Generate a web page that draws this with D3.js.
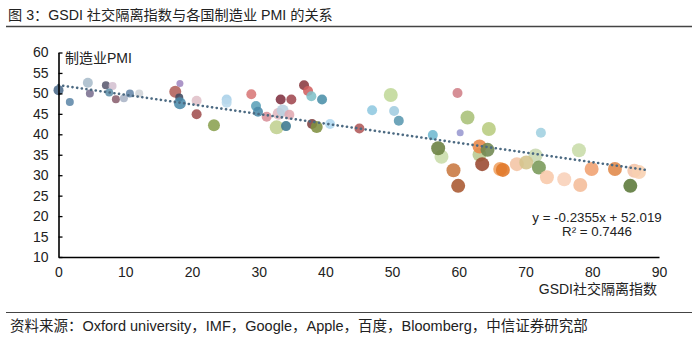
<!DOCTYPE html>
<html><head><meta charset="utf-8">
<script src="https://cdn.jsdelivr.net/npm/d3@7"></script>
<style>
body{margin:0;background:#fff;}
svg{display:block;font-family:"Liberation Sans","Noto Sans CJK SC",Arial,sans-serif;}
</style></head>
<body><svg id="c" width="699" height="340"></svg>
<script>
// ---- data ----
const gsdi = [0.0,1.7,4.4,4.7,7.1,8.1,7.6,8.6,9.8,10.7,12.1,18.2,17.5,18.1,18.2,20.7,20.7,23.3,25.2,25.2,28.9,29.6,29.9,31.2,32.7,33.3,34.9,33.0,33.6,34.6,34.1,36.8,37.4,37.9,39.5,38.0,38.7,40.7,45.1,47.0,49.8,50.3,51.0,56.1,59.8,60.2,61.3,64.5,72.3,57.4,56.9,59.2,59.9,63.1,63.1,64.3,63.5,66.2,66.6,68.7,71.5,70.1,72.0,73.2,75.8,78.2,78.0,79.9,83.4,86.3,87.0,85.7];
const pmi  = [50.8,47.9,52.6,50.0,52.0,51.8,50.2,48.6,48.8,50.0,50.0,52.4,50.4,49.0,47.6,48.2,44.9,42.2,48.5,47.7,49.8,46.9,45.5,44.3,41.7,48.5,48.5,45.0,45.8,44.8,42.0,52.0,50.6,49.3,48.5,42.5,41.8,42.5,41.4,45.9,49.6,45.7,43.3,39.8,50.1,40.4,44.1,41.3,40.4,34.5,36.6,31.2,27.4,35.0,37.0,36.2,32.7,31.5,31.3,32.7,34.8,33.1,31.9,29.5,29.0,27.6,36.1,31.5,31.5,31.1,30.8,27.4];
const xTicks = [0,10,20,30,40,50,60,70,80,90];
const yTicks = [10,15,20,25,30,35,40,45,50,55,60];
const slope = -0.2355, intercept = 52.019, r2 = 0.7446;
const titleText = "图 3：GSDI 社交隔离指数与各国制造业 PMI 的关系";
const yLabel = "制造业PMI";
const xLabel = "GSDI社交隔离指数";
const sourceText = "资料来源：Oxford university，IMF，Google，Apple，百度，Bloomberg，中信证券研究部";

// ---- styles (per point) ----
const pointColors = ["#4b6a8a","#5f87a8","#a9bccb","#7a6f8f","#5a5a70","#d4c0d0","#5f8faa","#8a6070","#aab4c6","#6688aa","#d0d4d8","#a088c0","#b0605a","#404a60","#4a8aaa","#e0c0c8","#a05050","#8aa050","#a8d0e8","#b8d8ec","#d87878","#5aa0b8","#4a8aa8","#d89098","#c0d090","#803040","#a04850","#e0b8c0","#b8d0e0","#e0a8b0","#3a7890","#8a3a40","#d06060","#80c0c8","#4a90a8","#804040","#809040","#b0d8f0","#b05858","#90c8e0","#c0d898","#a0cce0","#5a98b0","#70b8d0","#d08088","#9898d0","#a8c078","#b8cc80","#a0d0e0","#c8dca8","#6a8040","#c87840","#a85830","#b8c890","#e88848","#708850","#984830","#f0a060","#e07828","#f4c4a4","#c8d8b0","#d4c48c","#789858","#f8c8a8","#f8d0b8","#f4bc98","#c8dca8","#f0a070","#e08848","#f4c4a8","#f8d0b0","#5a7838"];
const pointR = [5,4,5,4,4,4,4,4,4,4,4,3.5,6,4,6,5,5,6,5,5,5,5,5,5,7,5,5,6,6,5,5,5,5,5,5,5,6,5,5,5,7,5,5,5,5,3.5,7,7,5,7,7,7,7,7,7,7,7,7,7,7,7,7,7,7,7,7,7,7,7,7,7,7];

const svg = d3.select("#c");
const x = d3.scaleLinear().domain([0,90]).range([58.5,659]);
const y = d3.scaleLinear().domain([10,60]).range([257,52.5]);

// title
svg.append("text").attr("x",8).attr("y",20).attr("font-size",14.2).attr("fill","#222").text(titleText);
svg.append("line").attr("x1",6).attr("x2",692).attr("y1",26.5).attr("y2",26.5).attr("stroke","#444").attr("stroke-width",1.3);

// points
const pts = gsdi.map((g,i)=>({g, p:pmi[i], c:pointColors[i], r:pointR[i]}));
svg.append("g").selectAll("circle").data(pts).join("circle")
  .attr("cx",d=>x(d.g)).attr("cy",d=>y(d.p)).attr("r",d=>d.r)
  .attr("fill",d=>d.c).attr("opacity",0.88);

// trend line
svg.append("line")
  .attr("x1",x(0)).attr("y1",y(intercept))
  .attr("x2",x(88)).attr("y2",y(intercept+slope*88))
  .attr("stroke","#4c6a82").attr("stroke-width",2.6)
  .attr("stroke-dasharray","0.1,4.6").attr("stroke-linecap","round");

// axes
const yAxis = d3.axisLeft(y).tickValues(yTicks).tickSizeInner(-4).tickSizeOuter(0).tickPadding(10);
const gy = svg.append("g").attr("transform",`translate(${x(0)},0)`).call(yAxis);
gy.select(".domain").attr("stroke","#000").attr("stroke-width",1.6);
gy.selectAll(".tick line").attr("stroke","#000").attr("stroke-width",1.3);
gy.selectAll(".tick text").attr("font-size",14).attr("fill","#222").attr("font-family","Liberation Sans, Arial, sans-serif");

const xAxis = d3.axisBottom(x).tickValues(xTicks).tickSize(0).tickPadding(10);
const gx = svg.append("g").attr("transform",`translate(0,${y(10)})`).call(xAxis);
gx.select(".domain").attr("stroke","#000").attr("stroke-width",1.6);
gx.selectAll(".tick text").attr("font-size",14).attr("fill","#222").attr("font-family","Liberation Sans, Arial, sans-serif");

// axis labels
svg.append("text").attr("x",65).attr("y",63).attr("font-size",14).attr("fill","#222").text(yLabel);
svg.append("text").attr("x",657).attr("y",294).attr("text-anchor","end").attr("font-size",14).attr("fill","#222").text(xLabel);

// equation
svg.append("text").attr("x",597).attr("y",222).attr("text-anchor","middle").attr("font-size",13.3).attr("fill","#222")
  .text(`y = ${slope}x + ${intercept}`);
svg.append("text").attr("x",597).attr("y",236).attr("text-anchor","middle").attr("font-size",13.3).attr("fill","#222")
  .text(`R² = ${r2}`);

// footer
svg.append("line").attr("x1",6).attr("x2",692).attr("y1",312.5).attr("y2",312.5).attr("stroke","#444").attr("stroke-width",1.2);
svg.append("text").attr("x",10).attr("y",331).attr("font-size",14.5).attr("fill","#222").text(sourceText);
</script>
</body></html>
